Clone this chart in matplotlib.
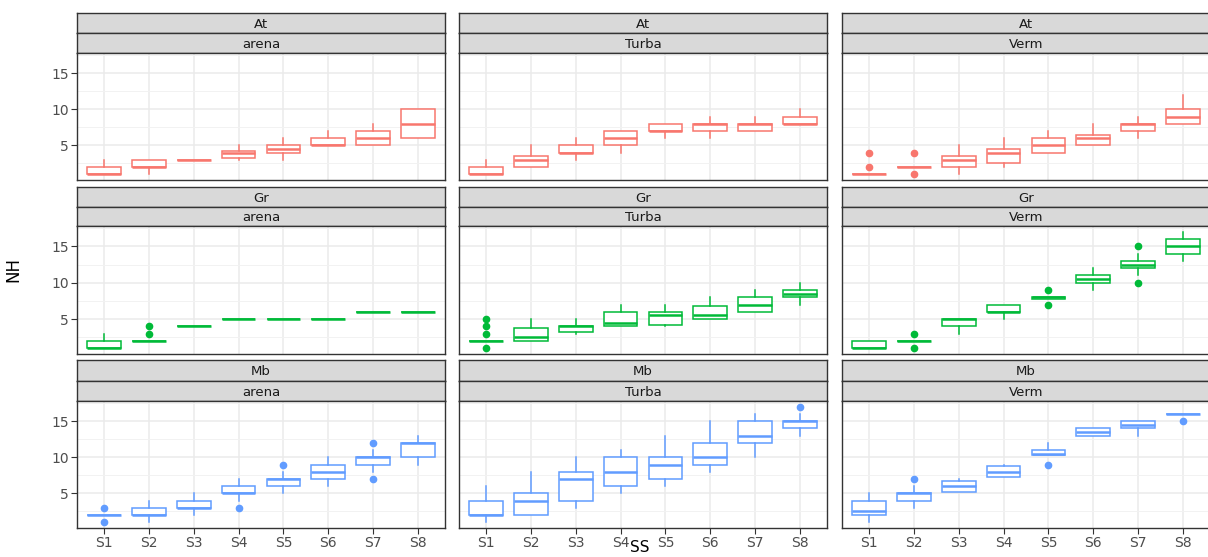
import numpy as np
import matplotlib
matplotlib.use("Agg")
import matplotlib.pyplot as plt

stations = ["S1", "S2", "S3", "S4", "S5", "S6", "S7", "S8"]
species = ["At", "Gr", "Mb"]
substrates = ["arena", "Turba", "Verm"]
colors = {"At": "#F8766D", "Gr": "#00BA38", "Mb": "#619CFF"}

# box statistics per panel: lower hinge, median, upper hinge, whisker ends, outliers
at_arena = dict(q1=[1, 2, 3, 3.25, 4, 5, 5, 6], med=[1, 2, 3, 4, 4.5, 5, 6, 8],
                q3=[2, 3, 3, 4.25, 5, 6, 7, 10], lo=[1, 1, 3, 3, 3, 5, 5, 6],
                hi=[3, 3, 3, 5, 6, 7, 8, 10], out=[[], [], [], [], [], [], [], []])
at_turba = dict(q1=[1, 2, 4, 5, 7, 7, 7, 8], med=[1, 3, 4, 6, 7, 8, 8, 8],
                q3=[2, 3.5, 5, 7, 8, 8, 8, 9], lo=[1, 2, 3, 4, 6, 6, 7, 8],
                hi=[3, 5, 6, 7, 8, 9, 9, 10], out=[[], [], [], [], [], [], [], []])
at_verm = dict(q1=[1, 2, 2, 2.5, 4, 5, 7, 8], med=[1, 2, 3, 4, 5, 6, 8, 9],
               q3=[1, 2, 3.5, 4.5, 6, 6.5, 8, 10], lo=[1, 2, 1, 2, 4, 5, 6, 8],
               hi=[1, 2, 5, 6, 7, 8, 9, 12], out=[[2, 4], [1, 4], [], [], [], [], [], []])

gr_arena = dict(q1=[1, 2, 4, 5, 5, 5, 6, 6], med=[1, 2, 4, 5, 5, 5, 6, 6],
                q3=[2, 2, 4, 5, 5, 5, 6, 6], lo=[1, 2, 4, 5, 5, 5, 6, 6],
                hi=[3, 2, 4, 5, 5, 5, 6, 6], out=[[], [3, 4], [], [], [], [], [], []])
gr_turba = dict(q1=[2, 2, 3.25, 4, 4.25, 5, 6, 8], med=[2, 2.5, 4, 4.5, 5.5, 5.5, 7, 8.5],
                q3=[2, 3.75, 4, 6, 6, 6.75, 8, 9], lo=[2, 2, 3, 4, 4, 5, 6, 7],
                hi=[2, 5, 5, 7, 7, 8, 9, 10], out=[[1, 3, 4, 5], [], [], [], [], [], [], []])
gr_verm = dict(q1=[1, 2, 4, 6, 7.75, 10, 12, 14], med=[1, 2, 5, 6, 8, 10.5, 12.5, 15],
               q3=[2, 2, 5, 7, 8, 11, 13, 16], lo=[1, 2, 3, 5, 7.75, 9, 11, 13],
               hi=[2, 2, 5, 7, 8, 12, 14, 17], out=[[], [1, 3], [], [], [7, 9], [], [10, 15], []])

mb_arena = dict(q1=[2, 2, 3, 5, 6, 7, 9, 10], med=[2, 2, 3, 5, 7, 8, 10, 12],
                q3=[2, 3, 4, 6, 7, 9, 10, 12], lo=[2, 1, 2, 4, 5, 6, 8, 9],
                hi=[2, 4, 5, 7, 8, 10, 11, 13], out=[[1, 3], [], [], [3], [9], [], [7, 12], []])
mb_turba = dict(q1=[2, 2, 4, 6, 7, 9, 12, 14], med=[2, 4, 7, 8, 9, 10, 13, 15],
                q3=[4, 5, 8, 10, 10, 12, 15, 15], lo=[1, 2, 3, 5, 6, 8, 10, 13],
                hi=[6, 8, 10, 11, 13, 15, 16, 16], out=[[], [], [], [], [], [], [], [17]])
mb_verm = dict(q1=[2, 4, 5.25, 7.25, 10.25, 13, 14, 16], med=[2.5, 5, 6, 8, 10.5, 13.5, 14.5, 16],
               q3=[4, 5, 6.75, 8.75, 11, 14, 15, 16], lo=[1, 3, 5.25, 7.25, 10.25, 13, 13, 16],
               hi=[5, 6, 7, 9, 12, 14, 15, 16], out=[[], [7], [], [], [9], [], [], [15]])

panels = {
    ("At", "arena"): at_arena, ("At", "Turba"): at_turba, ("At", "Verm"): at_verm,
    ("Gr", "arena"): gr_arena, ("Gr", "Turba"): gr_turba, ("Gr", "Verm"): gr_verm,
    ("Mb", "arena"): mb_arena, ("Mb", "Turba"): mb_turba, ("Mb", "Verm"): mb_verm,
}

W, H = 1208, 557
fig = plt.figure(figsize=(W / 100, H / 100), dpi=100)
plt.rcParams["font.family"] = "DejaVu Sans"

col_x = [77, 459, 842]
col_w = 368
# (strip top, strip divider, plot top, plot bottom) in pixels from the top
rows = [(13, 33, 53, 180), (187, 207, 226, 354), (360, 381, 401, 528)]
edge = "#333333"


def frac(x0, y0, x1, y1):
    return [x0 / W, 1 - y1 / H, (x1 - x0) / W, (y1 - y0) / H]


def strip(x0, y0, y1, label):
    s = fig.add_axes(frac(x0, y0, x0 + col_w, y1))
    s.set_facecolor("#D9D9D9")
    s.set_xticks([])
    s.set_yticks([])
    for sp in s.spines.values():
        sp.set_color(edge)
        sp.set_linewidth(1.0)
    s.text(0.5, 0.45, label, ha="center", va="center", fontsize=9.5,
           color="#1A1A1A", transform=s.transAxes)


for i, sp_name in enumerate(species):
    top, mid, ptop, pbot = rows[i]
    c = colors[sp_name]
    for j, sub in enumerate(substrates):
        x0 = col_x[j]
        strip(x0, top, mid, sp_name)
        strip(x0, mid, ptop, sub)
        ax = fig.add_axes(frac(x0, ptop, x0 + col_w, pbot))
        d = panels[(sp_name, sub)]
        stats = []
        for k in range(len(stations)):
            stats.append(dict(q1=d["q1"][k], med=d["med"][k], q3=d["q3"][k],
                              whislo=d["lo"][k], whishi=d["hi"][k],
                              fliers=d["out"][k]))
        pos = np.arange(1, len(stations) + 1)
        ax.bxp(stats, positions=pos, widths=0.75, showcaps=False,
               patch_artist=True,
               boxprops=dict(facecolor="white", edgecolor=c, linewidth=1.1),
               medianprops=dict(color=c, linewidth=1.8),
               whiskerprops=dict(color=c, linewidth=1.1),
               flierprops=dict(marker="o", markerfacecolor=c, markeredgecolor=c,
                               markersize=4.5), zorder=3)
        ax.set_xlim(0.4, 8.6)
        ax.set_ylim(0.2, 17.8)
        ax.set_xticks(pos)
        ax.set_yticks([5, 10, 15])
        ax.set_yticks([2.5, 7.5, 12.5, 17.5], minor=True)
        ax.grid(True, which="major", color="#EBEBEB", linewidth=1.1, zorder=0)
        ax.grid(True, which="minor", axis="y", color="#F2F2F2", linewidth=0.7, zorder=0)
        ax.set_axisbelow(True)
        for spn in ax.spines.values():
            spn.set_color(edge)
            spn.set_linewidth(1.0)
        ax.tick_params(which="minor", length=0)
        ax.tick_params(which="major", color=edge, length=4, labelsize=10,
                       labelcolor="#4D4D4D", pad=2)
        if i == 2:
            ax.set_xticklabels(stations)
        else:
            ax.set_xticklabels([])
            ax.tick_params(axis="x", length=0)
        if j == 0:
            ax.set_yticklabels(["5", "10", "15"])
        else:
            ax.set_yticklabels([])
            ax.tick_params(axis="y", length=0)

fig.text(13 / W, 1 - 270 / H, "NH", rotation=90, ha="center", va="center", fontsize=12)
fig.text(640 / W, 2 / H, "SS", ha="center", va="bottom", fontsize=11)

fig.savefig("out.png", dpi=100)
